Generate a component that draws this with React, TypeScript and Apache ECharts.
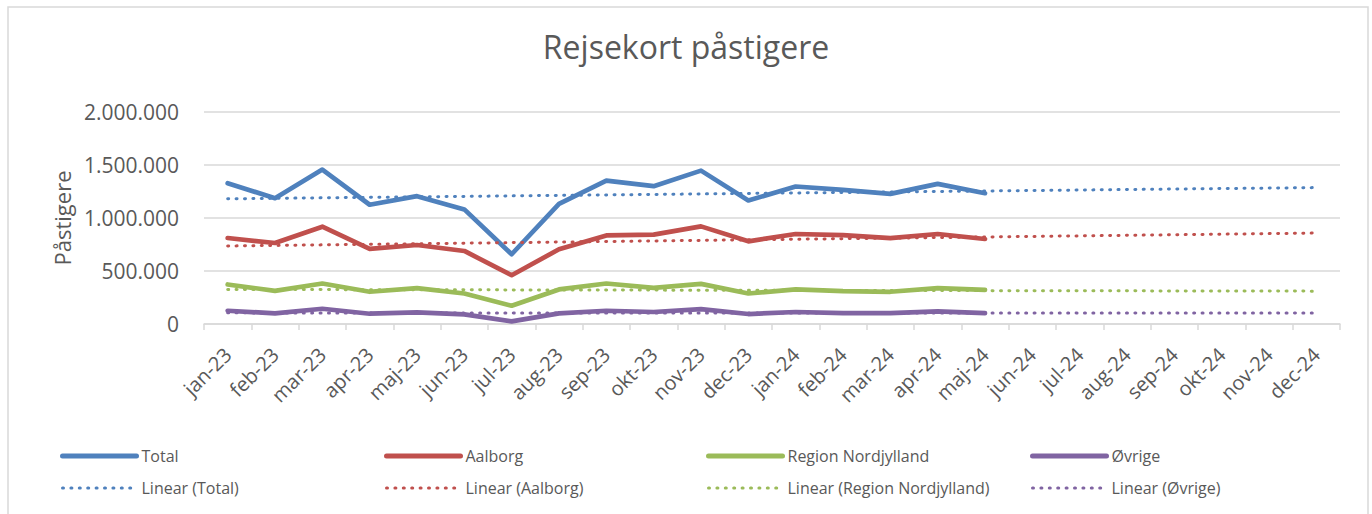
import React, { useEffect, useRef } from "react";
import * as echarts from "echarts";

const months = ["jan-23","feb-23","mar-23","apr-23","maj-23","jun-23","jul-23","aug-23","sep-23","okt-23","nov-23","dec-23",
  "jan-24","feb-24","mar-24","apr-24","maj-24","jun-24","jul-24","aug-24","sep-24","okt-24","nov-24","dec-24"];

const total = [1328000, 1187000, 1457000, 1125000, 1206000, 1081000, 658000, 1134000, 1353000, 1300000, 1447000, 1165000, 1297000, 1266000, 1228000, 1322000, 1234000];
const aalborg = [811000, 764000, 918000, 708000, 745000, 689000, 460000, 705000, 836000, 843000, 921000, 780000, 849000, 839000, 811000, 849000, 802000];
const region = [373000, 313000, 382000, 304000, 338000, 288000, 172000, 326000, 382000, 341000, 379000, 288000, 326000, 310000, 304000, 338000, 322000];
const ovrige = [125000, 100000, 144000, 97000, 110000, 91000, 25000, 100000, 125000, 113000, 141000, 94000, 113000, 103000, 103000, 119000, 103000];

// Linear trendline endpoints (jan-23 and dec-24)
const trendTotal = [1181000, 1287000];
const trendAalborg = [736000, 858000];
const trendRegion = [326000, 310000];
const trendOvrige = [105000, 103000];

const seriesNames = ["Total", "Aalborg", "Region Nordjylland", "Øvrige"];
const colors = ["#4F81BD", "#C0504D", "#9BBB59", "#8064A2"];
const yTicks = { min: 0, max: 2000000, interval: 500000 };

const FONT = "'Open Sans', 'Noto Sans', sans-serif";
const TXT = "#595959";

function trendData(ends: number[]) {
  return months.map((_, i) => (i === 0 ? ends[0] : i === months.length - 1 ? ends[1] : null));
}

function fmt(v: number) {
  return String(v).replace(/\B(?=(\d{3})+(?!\d))/g, ".");
}

export default function App() {
  const ref = useRef<HTMLDivElement>(null);
  useEffect(() => {
    if (!ref.current) return;
    const chart = echarts.init(ref.current, undefined, { renderer: "svg" });
    const values = [total, aalborg, region, ovrige];
    const trends = [trendTotal, trendAalborg, trendRegion, trendOvrige];
    const mainSeries = seriesNames.map((n, i) => ({
      name: n,
      type: "line",
      data: values[i],
      symbol: "none",
      showSymbol: false,
      silent: true,
      z: 2,
      color: colors[i],
      lineStyle: { color: colors[i], width: 4.7, cap: "round", join: "round" },
    }));
    const trendSeries = seriesNames.map((n, i) => ({
      name: `Linear (${n})`,
      type: "line",
      data: trendData(trends[i]),
      connectNulls: true,
      symbol: "none",
      showSymbol: false,
      silent: true,
      z: 3,
      color: colors[i],
      lineStyle: { color: colors[i], width: 3, type: [1, 7.4], cap: "round" },
    }));
    const legendLefts = [60, 384, 706, 1030];
    const legends = seriesNames.map((n, i) => ({
      orient: "vertical",
      left: legendLefts[i],
      top: 448,
      padding: 0,
      itemWidth: 74,
      itemHeight: 16,
      itemGap: 16,
      selectedMode: false,
      itemStyle: { opacity: 0, color: "transparent", borderWidth: 0 },
      textStyle: { fontSize: 16, color: TXT, fontFamily: FONT },
      data: [
        { name: n, lineStyle: { width: 5 } },
        { name: `Linear (${n})`, lineStyle: { width: 3 } },
      ],
    }));
    chart.setOption({
      animation: false,
      title: {
        text: "Rejsekort påstigere",
        left: "center",
        top: 25,
        textStyle: { fontSize: 32, fontWeight: "normal", color: TXT, fontFamily: FONT },
      },
      graphic: [
        {
          type: "rect",
          shape: { x: 8, y: 7, width: 1360, height: 600 },
          style: { fill: "none", stroke: "#D9D9D9", lineWidth: 1.5 },
          silent: true,
        },
      ],
      legend: legends,
      grid: { left: 204, right: 32, top: 112, bottom: 190 },
      xAxis: {
        type: "category",
        data: months,
        boundaryGap: true,
        axisLine: { lineStyle: { color: "#D9D9D9", width: 1.5 } },
        axisTick: { show: true, length: 6, lineStyle: { color: "#D9D9D9", width: 1.5 } },
        axisLabel: { rotate: 45, interval: 0, fontSize: 20, color: TXT, fontFamily: FONT, margin: 27 },
      },
      yAxis: {
        type: "value",
        min: yTicks.min,
        max: yTicks.max,
        interval: yTicks.interval,
        name: "Påstigere",
        nameLocation: "middle",
        nameRotate: 90,
        nameGap: 130,
        nameTextStyle: { fontSize: 22, color: TXT, fontFamily: FONT },
        axisLine: { show: false },
        axisTick: { show: false },
        axisLabel: { fontSize: 21, color: TXT, fontFamily: FONT, margin: 25, formatter: (v: number) => fmt(v) },
        splitLine: { lineStyle: { color: "#D9D9D9", width: 1.5 } },
      },
      series: [...mainSeries, ...trendSeries],
    });
    return () => chart.dispose();
  }, []);
  return <div ref={ref} style={{ position: "absolute", left: 0, top: 0, width: 1372, height: 514 }} />;
}
